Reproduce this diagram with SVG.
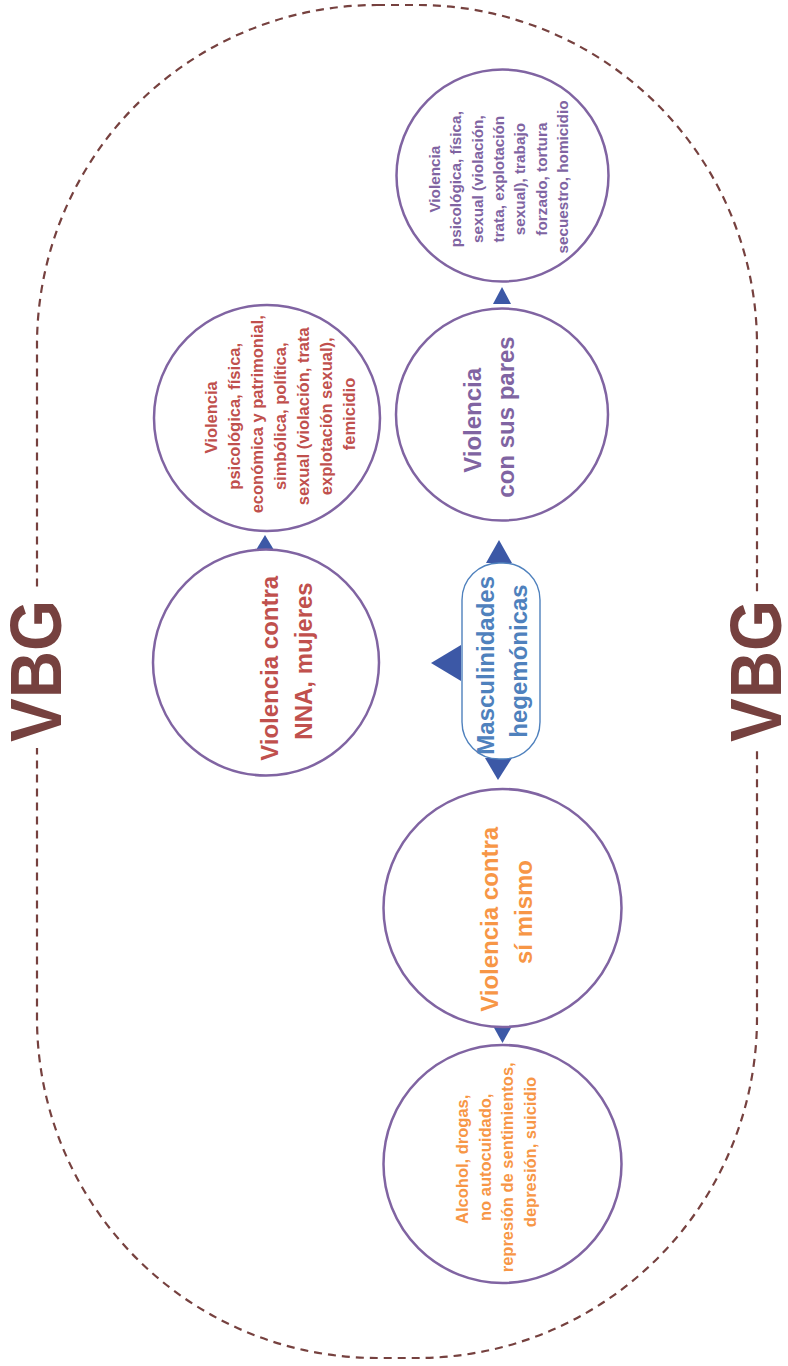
<svg xmlns="http://www.w3.org/2000/svg" width="788" height="1366" viewBox="0 0 788 1366">
<style>
text{font-family:"Liberation Sans",Arial,sans-serif;font-weight:bold;text-anchor:middle}
.circ{fill:#fff;stroke:#8064a2;stroke-width:2.5}
.red{fill:#c0504d}
.pur{fill:#8064a2}
.org{fill:#f79646}
.blu{fill:#4f81bd}
.vbg{fill:#76413f;font-size:72px}
.arr{fill:#3c58a6}
.s16{font-size:16.5px}
.s15{font-size:15.3px}
.s24{font-size:24px}
</style>
<rect width="788" height="1366" fill="#fff"/>
<g id="outline">
<rect x="37" y="5" width="720" height="1353" rx="340" ry="340" fill="none" stroke="#76413f" stroke-width="2.2" stroke-dasharray="8 6"/>
</g>
<g id="vbg-left">
<rect x="4" y="592" width="64" height="156" fill="#fff"/>
<text class="vbg" transform="rotate(-90)" x="-671" y="61" textLength="142" lengthAdjust="spacingAndGlyphs">VBG</text>
</g>
<g id="vbg-right">
<rect x="724" y="592" width="62" height="156" fill="#fff"/>
<text class="vbg" transform="rotate(-90)" x="-671" y="781" textLength="142" lengthAdjust="spacingAndGlyphs">VBG</text>
</g>
<g id="connectors">
<polygon class="arr" points="502,287 511,304 493,304"/>
<polygon class="arr" points="499,540 512,563 486,563"/>
<polygon class="arr" points="431,663 461,645 461,681"/>
<polygon class="arr" points="485,758 512,758 498,780"/>
<polygon class="arr" points="265,535 274,550 256,550"/>
<polygon class="arr" points="493,1026 512,1026 502.5,1043"/>
</g>
<g id="node-pares-detalle">
<circle class="circ" cx="502.5" cy="175.5" r="106"/>
<text class="pur s15" transform="rotate(-90)">
<tspan x="-177" y="440">Violencia</tspan>
<tspan x="-177" y="461.3">psicológica, física,</tspan>
<tspan x="-177" y="482.7">sexual (violación,</tspan>
<tspan x="-177" y="504">trata, explotación</tspan>
<tspan x="-177" y="525.3">sexual), trabajo</tspan>
<tspan x="-177" y="546.7">forzado, tortura</tspan>
<tspan x="-177" y="568">secuestro, homicidio</tspan>
</text>
</g>
<g id="node-pares">
<circle class="circ" cx="502" cy="414.5" r="106"/>
<text class="pur s24" transform="rotate(-90)">
<tspan x="-417" y="481">Violencia</tspan>
<tspan x="-417" y="514">con sus pares</tspan>
</text>
</g>
<g id="node-nna-detalle">
<circle class="circ" cx="267" cy="418" r="113"/>
<text class="red s16" transform="rotate(-90)">
<tspan x="-415" y="217">Violencia</tspan>
<tspan x="-414" y="240">psicológica, física,</tspan>
<tspan x="-412" y="263">económica y patrimonial,</tspan>
<tspan x="-414" y="286">simbólica, política,</tspan>
<tspan x="-414" y="309">sexual (violación, trata</tspan>
<tspan x="-414" y="332">explotación sexual),</tspan>
<tspan x="-414" y="355">femicidio</tspan>
</text>
</g>
<g id="node-nna">
<circle class="circ" cx="266" cy="662.5" r="113"/>
<text class="red s24" transform="rotate(-90)">
<tspan x="-665" y="278">Violencia contra</tspan>
<tspan x="-661" y="312">NNA, mujeres</tspan>
</text>
</g>
<g id="node-masculinidades">
<rect x="462" y="563" width="78" height="196" rx="37" ry="37" fill="#fff" stroke="#4f81bd" stroke-width="1.4"/>
<text class="blu s24" transform="rotate(-90)">
<tspan x="-662" y="494">Masculinidades</tspan>
<tspan x="-661" y="527">hegemónicas</tspan>
</text>
</g>
<g id="node-si-mismo">
<circle class="circ" cx="502.5" cy="908" r="119"/>
<text class="org s24" transform="rotate(-90)">
<tspan x="-916" y="498">Violencia contra</tspan>
<tspan x="-912" y="532">sí mismo</tspan>
</text>
</g>
<g id="node-si-mismo-detalle">
<circle class="circ" cx="502.5" cy="1164" r="119"/>
<text class="org s16" transform="rotate(-90)">
<tspan x="-1157" y="468">Alcohol, drogas,</tspan>
<tspan x="-1155" y="490.5">no autocuidado,</tspan>
<tspan x="-1165" y="513">represión de sentimientos,</tspan>
<tspan x="-1152" y="535.5">depresión, suicidio</tspan>
</text>
</g>
</svg>
